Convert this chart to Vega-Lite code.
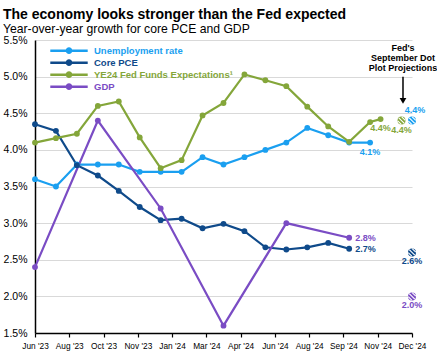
{
  "$schema": "https://vega.github.io/schema/vega-lite/v6.json",
  "width": 377,
  "height": 293,
  "autosize": "none",
  "padding": {"left": 35, "top": 40, "right": 25, "bottom": 19},
  "title": {
    "text": "The economy looks stronger than the Fed expected",
    "subtitle": "Year-over-year growth for core PCE and GDP",
    "anchor": "start",
    "frame": "group",
    "dx": -32,
    "offset": 0
  },
  "config": {
    "font": "Liberation Sans",
    "view": {"stroke": null},
    "title": {"font": "Liberation Sans", "fontSize": 14, "fontWeight": "bold", "color": "#000000", "subtitleFont": "Liberation Sans", "subtitleFontSize": 12.2, "subtitleColor": "#000000", "subtitlePadding": 1}
  },
  "datasets": {
    "series": [
      {"series": "Unemployment rate", "m": 0, "v": 3.6}, {"series": "Unemployment rate", "m": 1, "v": 3.5},
      {"series": "Unemployment rate", "m": 2, "v": 3.8}, {"series": "Unemployment rate", "m": 3, "v": 3.8},
      {"series": "Unemployment rate", "m": 4, "v": 3.8}, {"series": "Unemployment rate", "m": 5, "v": 3.7},
      {"series": "Unemployment rate", "m": 6, "v": 3.7}, {"series": "Unemployment rate", "m": 7, "v": 3.7},
      {"series": "Unemployment rate", "m": 8, "v": 3.9}, {"series": "Unemployment rate", "m": 9, "v": 3.8},
      {"series": "Unemployment rate", "m": 10, "v": 3.9}, {"series": "Unemployment rate", "m": 11, "v": 4.0},
      {"series": "Unemployment rate", "m": 12, "v": 4.1}, {"series": "Unemployment rate", "m": 13, "v": 4.3},
      {"series": "Unemployment rate", "m": 14, "v": 4.2}, {"series": "Unemployment rate", "m": 15, "v": 4.1},
      {"series": "Unemployment rate", "m": 16, "v": 4.1},
      {"series": "Core PCE", "m": 0, "v": 4.35}, {"series": "Core PCE", "m": 1, "v": 4.26},
      {"series": "Core PCE", "m": 2, "v": 3.79}, {"series": "Core PCE", "m": 3, "v": 3.65},
      {"series": "Core PCE", "m": 4, "v": 3.44}, {"series": "Core PCE", "m": 5, "v": 3.22},
      {"series": "Core PCE", "m": 6, "v": 3.04}, {"series": "Core PCE", "m": 7, "v": 3.06},
      {"series": "Core PCE", "m": 8, "v": 2.93}, {"series": "Core PCE", "m": 9, "v": 2.99},
      {"series": "Core PCE", "m": 10, "v": 2.89}, {"series": "Core PCE", "m": 11, "v": 2.67},
      {"series": "Core PCE", "m": 12, "v": 2.64}, {"series": "Core PCE", "m": 13, "v": 2.67},
      {"series": "Core PCE", "m": 14, "v": 2.73}, {"series": "Core PCE", "m": 15, "v": 2.65},
      {"series": "YE24 Fed Funds Expectations¹", "m": 0, "v": 4.10}, {"series": "YE24 Fed Funds Expectations¹", "m": 1, "v": 4.16},
      {"series": "YE24 Fed Funds Expectations¹", "m": 2, "v": 4.22}, {"series": "YE24 Fed Funds Expectations¹", "m": 3, "v": 4.60},
      {"series": "YE24 Fed Funds Expectations¹", "m": 4, "v": 4.66}, {"series": "YE24 Fed Funds Expectations¹", "m": 5, "v": 4.17},
      {"series": "YE24 Fed Funds Expectations¹", "m": 6, "v": 3.75}, {"series": "YE24 Fed Funds Expectations¹", "m": 7, "v": 3.86},
      {"series": "YE24 Fed Funds Expectations¹", "m": 8, "v": 4.47}, {"series": "YE24 Fed Funds Expectations¹", "m": 9, "v": 4.64},
      {"series": "YE24 Fed Funds Expectations¹", "m": 10, "v": 5.03}, {"series": "YE24 Fed Funds Expectations¹", "m": 11, "v": 4.95},
      {"series": "YE24 Fed Funds Expectations¹", "m": 12, "v": 4.87}, {"series": "YE24 Fed Funds Expectations¹", "m": 13, "v": 4.59},
      {"series": "YE24 Fed Funds Expectations¹", "m": 14, "v": 4.32}, {"series": "YE24 Fed Funds Expectations¹", "m": 15, "v": 4.11},
      {"series": "YE24 Fed Funds Expectations¹", "m": 16, "v": 4.38}, {"series": "YE24 Fed Funds Expectations¹", "m": 16.5, "v": 4.42},
      {"series": "GDP", "m": 0, "v": 2.4}, {"series": "GDP", "m": 3, "v": 4.4},
      {"series": "GDP", "m": 6, "v": 3.2}, {"series": "GDP", "m": 9, "v": 1.6},
      {"series": "GDP", "m": 12, "v": 3.0}, {"series": "GDP", "m": 15, "v": 2.8}
    ],
    "proj": [
      {"series": "YE24 Fed Funds Expectations¹", "m": 17.5, "v": 4.4},
      {"series": "Unemployment rate", "m": 18, "v": 4.4},
      {"series": "Core PCE", "m": 18, "v": 2.6},
      {"series": "GDP", "m": 18, "v": 2.0}
    ]
  },
  "layer": [
    {
      "data": {"name": "series"},
      "mark": {"type": "line", "strokeWidth": 2.2, "point": {"filled": true, "size": 34}},
      "encoding": {
        "x": {
          "field": "m", "type": "quantitative",
          "scale": {"domain": [0, 18], "nice": false, "zero": false},
          "axis": {
            "title": null, "grid": false, "tickCount": 30,
            "values": [0, 1.6364, 3.2727, 4.9091, 6.5455, 8.1818, 9.8182, 11.4545, 13.0909, 14.7273, 16.3636, 18],
            "labelExpr": "['Jun \\'23','Aug \\'23','Oct \\'23','Nov \\'23','Jan \\'24','Mar \\'24','Apr \\'24','Jun \\'24','Aug \\'24','Sep \\'24','Nov \\'24','Dec \\'24'][round(datum.value*11/18)]",
            "labelOverlap": false, "labelBound": false, "labelFlush": false,
            "domainColor": "#000000", "domainWidth": 1.5, "tickColor": "#000000", "tickWidth": 1.2, "tickSize": 4,
            "labelColor": "#000000", "labelFontSize": 8.3, "labelPadding": 4, "labelFont": "Liberation Sans"
          }
        },
        "y": {
          "field": "v", "type": "quantitative",
          "scale": {"domain": [1.5, 5.5], "nice": false, "zero": false},
          "axis": {
            "title": null, "tickCount": 30, "values": [1.5, 2, 2.5, 3, 3.5, 4, 4.5, 5, 5.5],
            "labelExpr": "format(datum.value, '.1f') + '%'",
            "labelOverlap": false, "labelBound": false, "labelFlush": false,
            "gridColor": "#d9d9d9", "gridWidth": 1, "ticks": false,
            "domainColor": "#000000", "domainWidth": 1.5,
            "labelColor": "#000000", "labelFontSize": 10.5, "labelPadding": 8, "labelFont": "Liberation Sans"
          }
        },
        "color": {
          "field": "series", "type": "nominal",
          "scale": {
            "domain": ["Unemployment rate", "Core PCE", "YE24 Fed Funds Expectations¹", "GDP"],
            "range": ["#1a9ff0", "#0f4a8a", "#84a63a", "#7a4cc4"]
          },
          "legend": {
            "title": null, "orient": "none", "legendX": 14, "legendY": 5,
            "symbolType": "M-1,0L1,0M-0.11,0A0.11,0.11 0 1,1 0.11,0A0.11,0.11 0 1,1 -0.11,0Z",
            "symbolSize": 1400, "symbolStrokeWidth": 2.5, "clipHeight": 11.3, "rowPadding": 0,
            "labelFontSize": 9.5, "labelFontWeight": "bold", "labelOffset": 5, "labelFont": "Liberation Sans",
            "encode": {"labels": {"update": {"fill": {"scale": "color", "field": "value"}}}}
          }
        }
      }
    },
    {
      "data": {"name": "proj"},
      "mark": {"type": "point", "shape": "circle", "filled": true, "size": 64, "opacity": 1},
      "encoding": {
        "x": {"field": "m", "type": "quantitative"},
        "y": {"field": "v", "type": "quantitative"},
        "color": {"field": "series", "type": "nominal"}
      }
    },
    {
      "data": {"name": "proj"},
      "mark": {"type": "point", "shape": "M-0.7,-0.7L0.7,0.7M0.05,-0.95L0.95,-0.05M-0.95,0.05L-0.05,0.95", "filled": false, "size": 64, "stroke": "#ffffff", "strokeWidth": 1.1, "opacity": 1},
      "encoding": {
        "x": {"field": "m", "type": "quantitative"},
        "y": {"field": "v", "type": "quantitative"}
      }
    },
    {
      "data": {"values": [
        {"series": "Unemployment rate", "m": 16, "v": 4.1, "label": "4.1%"},
        {"series": "YE24 Fed Funds Expectations¹", "m": 16.5, "v": 4.42, "label": "4.4%"},
        {"series": "YE24 Fed Funds Expectations¹", "m": 17.5, "v": 4.4, "label": "4.4%"},
        {"series": "Core PCE", "m": 18, "v": 2.6, "label": "2.6%"},
        {"series": "GDP", "m": 18, "v": 2.0, "label": "2.0%"}
      ]},
      "mark": {"type": "text", "fontSize": 9, "fontWeight": "bold", "baseline": "middle", "align": "center", "dy": 9},
      "encoding": {
        "x": {"field": "m", "type": "quantitative"},
        "y": {"field": "v", "type": "quantitative"},
        "text": {"field": "label"},
        "color": {"field": "series", "type": "nominal"}
      }
    },
    {
      "data": {"values": [
        {"series": "Core PCE", "m": 15, "v": 2.65, "label": "2.7%"},
        {"series": "GDP", "m": 15, "v": 2.8, "label": "2.8%"}
      ]},
      "mark": {"type": "text", "fontSize": 9, "fontWeight": "bold", "baseline": "middle", "align": "left", "dx": 6},
      "encoding": {
        "x": {"field": "m", "type": "quantitative"},
        "y": {"field": "v", "type": "quantitative"},
        "text": {"field": "label"},
        "color": {"field": "series", "type": "nominal"}
      }
    },
    {
      "data": {"values": [
        {"series": "Unemployment rate", "m": 18, "v": 4.4, "label": "4.4%"}
      ]},
      "mark": {"type": "text", "fontSize": 9, "fontWeight": "bold", "baseline": "middle", "align": "center", "dx": 3, "dy": -11},
      "encoding": {
        "x": {"field": "m", "type": "quantitative"},
        "y": {"field": "v", "type": "quantitative"},
        "text": {"field": "label"},
        "color": {"field": "series", "type": "nominal"}
      }
    },
    {
      "data": {"values": [{"m": 17.57, "v1": 5.0, "v2": 4.7}]},
      "mark": {"type": "rule", "color": "#000000", "strokeWidth": 1.5},
      "encoding": {
        "x": {"field": "m", "type": "quantitative"},
        "y": {"field": "v1", "type": "quantitative"},
        "y2": {"field": "v2"}
      }
    },
    {
      "data": {"values": [{"m": 17.57, "v": 4.67}]},
      "mark": {"type": "point", "shape": "triangle-down", "filled": true, "color": "#000000", "size": 45, "opacity": 1},
      "encoding": {
        "x": {"field": "m", "type": "quantitative"},
        "y": {"field": "v", "type": "quantitative"}
      }
    },
    {
      "data": {"values": [{"m": 17.57, "v": 5.45, "label": "Fed's September Dot Plot Projections"}]},
      "mark": {"type": "text", "fontSize": 9, "fontWeight": "bold", "color": "#000000", "align": "center", "baseline": "top", "lineHeight": 10.3,
        "text": ["Fed's", "September Dot", "Plot Projections"]},
      "encoding": {
        "x": {"field": "m", "type": "quantitative"},
        "y": {"field": "v", "type": "quantitative"}
      }
    }
  ]
}
